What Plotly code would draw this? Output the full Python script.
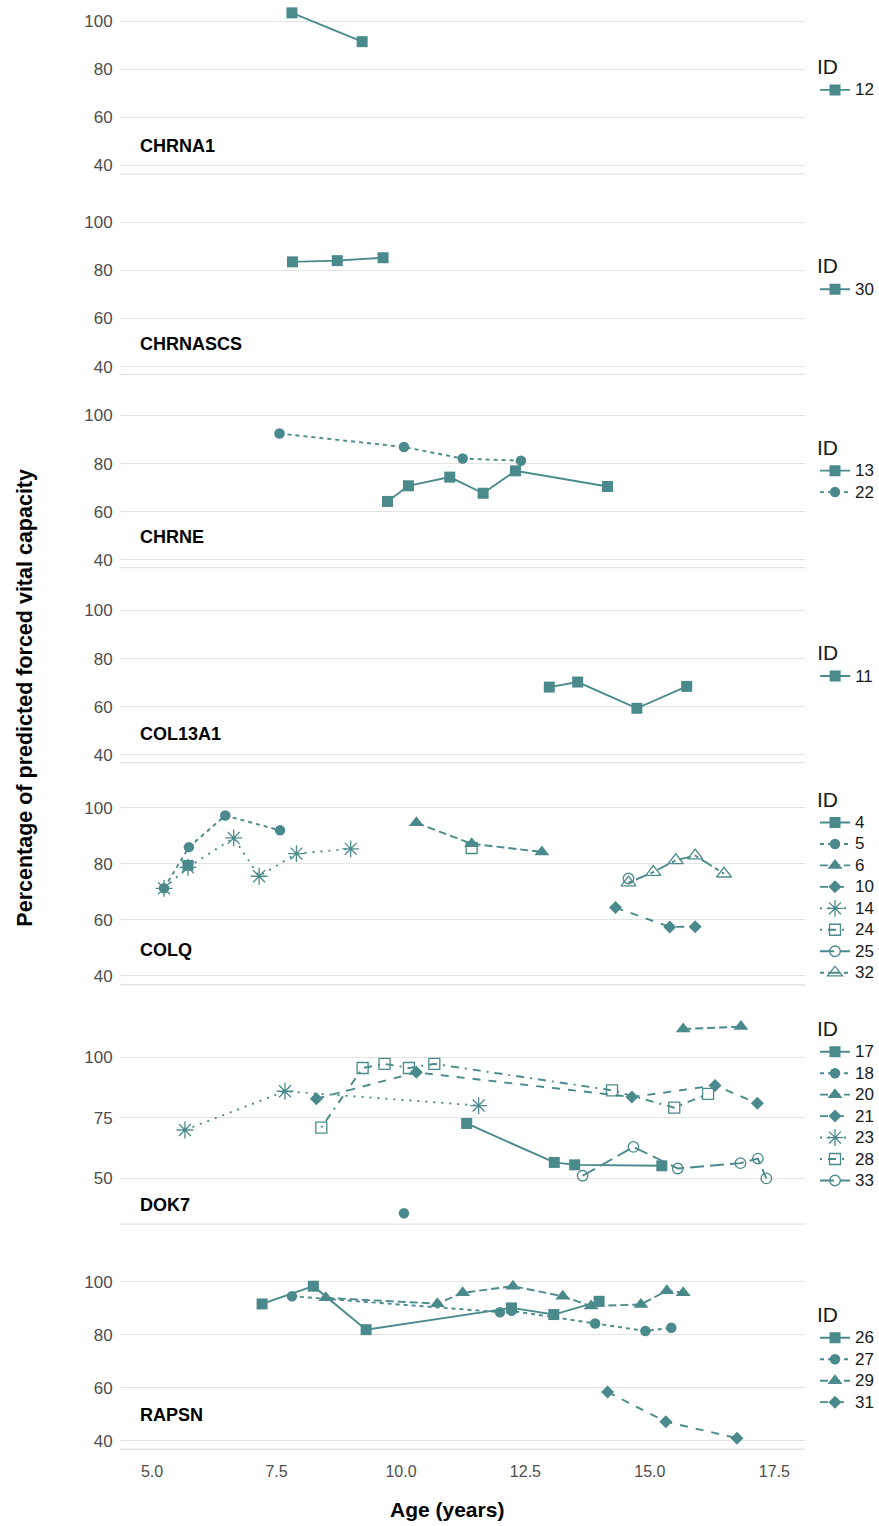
import plotly.graph_objects as go

W, H = 879, 1526
TEAL = "#4b8a8c"
GRID = "#e4e4e4"
FONT = "Liberation Sans, Arial, sans-serif"

# ---- FVC (% predicted) by age, one pair of lists per patient ID ----
# CHRNA1
age_12 = [7.81, 9.22]
fvc_12 = [103.6, 91.6]
# CHRNASCS
age_30 = [7.82, 8.72, 9.64]
fvc_30 = [83.5, 84.0, 85.2]
# CHRNE
age_13 = [9.73, 10.15, 10.98, 11.65, 12.30, 14.15]
fvc_13 = [64.3, 70.8, 74.4, 67.7, 77.0, 70.5]
age_22 = [7.56, 10.06, 11.24, 12.41]
fvc_22 = [92.5, 86.9, 82.1, 81.2]
# COL13A1
age_11 = [12.98, 13.55, 14.74, 15.74]
fvc_11 = [68.2, 70.3, 59.4, 68.5]
# COLQ
age_4 = [5.72]
fvc_4 = [79.5]
age_5 = [5.24, 5.74, 6.47, 7.57]
fvc_5 = [71.3, 86.0, 97.3, 92.0]
age_6 = [10.31, 11.42, 12.83]
fvc_6 = [94.7, 87.2, 84.3]
age_10 = [14.31, 15.40, 15.91]
fvc_10 = [64.4, 57.5, 57.6]
age_14 = [5.24, 5.72, 6.64, 7.15, 7.90, 8.99]
fvc_14 = [71.3, 78.8, 89.3, 75.6, 83.7, 85.4]
age_24 = [11.42]
fvc_24 = [85.7]
age_25 = [14.57]
fvc_25 = [74.8]
age_32 = [14.57, 15.07, 15.52, 15.91, 16.49]
fvc_32 = [73.3, 77.1, 81.3, 83.0, 76.5]
# DOK7
age_17 = [11.32, 13.08, 13.49, 15.24]
fvc_17 = [72.7, 56.6, 55.6, 55.2]
age_18 = [10.06]
fvc_18 = [35.6]
age_20 = [15.67, 16.83]
fvc_20 = [111.7, 112.7]
age_21 = [8.30, 10.31, 14.64, 16.31, 17.16]
fvc_21 = [82.9, 93.8, 83.6, 88.4, 81.0]
age_23 = [5.66, 7.67, 11.56]
fvc_23 = [70.0, 86.0, 80.1]
age_28 = [8.40, 9.23, 9.67, 10.16, 10.67, 14.24, 15.49, 16.17]
fvc_28 = [71.0, 95.6, 97.3, 95.6, 97.3, 86.4, 79.2, 84.9]
age_33 = [13.65, 14.67, 15.56, 16.82, 17.17, 17.34]
fvc_33 = [51.1, 63.0, 54.1, 56.3, 58.2, 50.0]
# RAPSN
age_26 = [7.21, 8.24, 9.30, 12.22, 13.07, 13.98]
fvc_26 = [91.6, 98.3, 81.9, 90.1, 87.6, 92.6]
age_27 = [7.81, 11.99, 12.22, 13.90, 14.91, 15.43]
fvc_27 = [94.5, 88.5, 89.0, 84.2, 81.4, 82.6]
age_29 = [8.49, 10.73, 11.24, 12.25, 13.25, 13.82, 14.82, 15.34, 15.67]
fvc_29 = [93.9, 91.7, 95.8, 98.3, 94.5, 90.8, 91.4, 96.6, 95.8]
age_31 = [14.15, 15.32, 16.75]
fvc_31 = [58.4, 47.2, 41.0]

genes = ["CHRNA1", "CHRNASCS", "CHRNE", "COL13A1", "COLQ", "DOK7", "RAPSN"]
gene_ids = [
    [("12", age_12, fvc_12)],
    [("30", age_30, fvc_30)],
    [("13", age_13, fvc_13), ("22", age_22, fvc_22)],
    [("11", age_11, fvc_11)],
    [("4", age_4, fvc_4), ("5", age_5, fvc_5), ("6", age_6, fvc_6),
     ("10", age_10, fvc_10), ("14", age_14, fvc_14), ("24", age_24, fvc_24),
     ("25", age_25, fvc_25), ("32", age_32, fvc_32)],
    [("17", age_17, fvc_17), ("18", age_18, fvc_18), ("20", age_20, fvc_20),
     ("21", age_21, fvc_21), ("23", age_23, fvc_23), ("28", age_28, fvc_28),
     ("33", age_33, fvc_33)],
    [("26", age_26, fvc_26), ("27", age_27, fvc_27), ("29", age_29, fvc_29),
     ("31", age_31, fvc_31)],
]
y_ticks = [[40, 60, 80, 100]] * 5 + [[50, 75, 100]] + [[40, 60, 80, 100]]
x_ticks = [5, 7.5, 10, 12.5, 15, 17.5]
x_tick_text = ["5.0", "7.5", "10.0", "12.5", "15.0", "17.5"]

# ---- styling: shape / linetype by position of the ID within its panel ----
symbols = ["square", "circle", "triangle-up", "diamond", "asterisk-open",
           "square-open", "circle-open", "triangle-up-open"]
msizes = [11, 10.5, 13, 10, 14, 11, 10.5, 13]
dashes = ["solid", "4px,4px", "8px,4px", "8px,8px", "2px,6px",
          "2px,6px,8px,6px", "14px,6px", "4px,4px,12px,4px"]

# panel geometry in page pixels (top, bottom) and value ranges
panel_px = [(3.2, 172), (213.6, 373), (407.6, 567), (603.3, 762.7),
            (800.2, 985.5), (1018.5, 1225.7), (1275.9, 1451.5)]
y_ranges = [(36.7, 106.8), (37, 103), (37, 103), (37, 103), (37, 103),
            (31.3, 116.6), (37, 103)]
label_px = [144, 343, 537, 734, 951, 1207, 1418]
legend_title_px = [68, 268, 450, 656, 803, 1033, 1320]

X0, X1 = 120, 807


def fy(px):
    return 1 - px / H


fig = go.Figure()
layout = dict(
    width=W, height=H, margin=dict(l=0, r=0, t=0, b=0),
    plot_bgcolor="white", paper_bgcolor="white",
    font=dict(family=FONT, color="#1a1a1a"),
    showlegend=True,
)

layout["xaxis"] = dict(
    domain=[X0 / W, X1 / W], range=[4.35, 18.12], anchor="y7",
    tickvals=x_ticks, ticktext=x_tick_text, showgrid=False, zeroline=False,
    showline=False, ticks="", ticklabelstandoff=11,
    tickfont=dict(size=16, color="#4d4d4d", family=FONT),
)

shapes = []
annotations = []
for i, gene in enumerate(genes):
    n = i + 1
    ya = "y" if n == 1 else f"y{n}"
    lg = "legend" if n == 1 else f"legend{n}"
    top, bot = panel_px[i]
    layout["yaxis" if n == 1 else f"yaxis{n}"] = dict(
        domain=[fy(bot), fy(top)], range=list(y_ranges[i]), anchor="x",
        tickvals=y_ticks[i], showgrid=True, gridcolor=GRID, gridwidth=1.3,
        zeroline=False, showline=False, ticks="", ticklabelstandoff=6,
        tickfont=dict(size=17, color="#4d4d4d", family=FONT),
    )
    # row spacing follows the legend font size; the labels themselves are drawn larger
    layout[lg] = dict(
        x=817 / W, xanchor="left", y=fy(legend_title_px[i] - 23),
        yanchor="top", bgcolor="rgba(0,0,0,0)", borderwidth=0,
        title=dict(text="ID", font=dict(size=21, color="#1a1a1a")),
        font=dict(size=14.2, color="#1a1a1a", family=FONT),
        itemwidth=30, tracegroupgap=0,
    )
    for j, (pid, ages, vals) in enumerate(gene_ids[i]):
        open_sym = symbols[j].endswith("open")
        fig.add_trace(go.Scatter(
            x=ages, y=vals, mode="lines+markers",
            name=f'<span style="font-size:17px">{pid}</span>',
            xaxis="x", yaxis=ya, legend=lg,
            line=dict(color=TEAL, width=1.9, dash=dashes[j]),
            marker=dict(symbol=symbols[j], size=msizes[j], color=TEAL,
                        line=dict(color=TEAL, width=1.3 if open_sym else 0)),
            cliponaxis=False,
        ))
    # light rule along the bottom of each panel
    shapes.append(dict(type="line", xref="paper", yref="paper",
                       x0=X0 / W, x1=X1 / W, y0=fy(bot + 0.5), y1=fy(bot + 0.5),
                       line=dict(color=GRID, width=1.3)))
    annotations.append(dict(
        text=f"<b>{gene}</b>", xref="paper", yref="paper",
        x=138 / W, y=fy(label_px[i]), xanchor="left", yanchor="middle",
        showarrow=False, font=dict(size=18, color="black", family=FONT),
    ))

annotations.append(dict(
    text="<b>Age (years)</b>", xref="paper", yref="paper",
    x=448 / W, y=fy(1512), xanchor="center", yanchor="middle",
    showarrow=False, font=dict(size=21, color="black", family=FONT),
))
annotations.append(dict(
    text="<b>Percentage of predicted forced vital capacity</b>",
    xref="paper", yref="paper", x=25 / W, y=fy(698), textangle=-90,
    xanchor="center", yanchor="middle", showarrow=False,
    font=dict(size=21.5, color="black", family=FONT),
))

layout["shapes"] = shapes
layout["annotations"] = annotations
fig.update_layout(**layout)
fig.write_html("out.html")
